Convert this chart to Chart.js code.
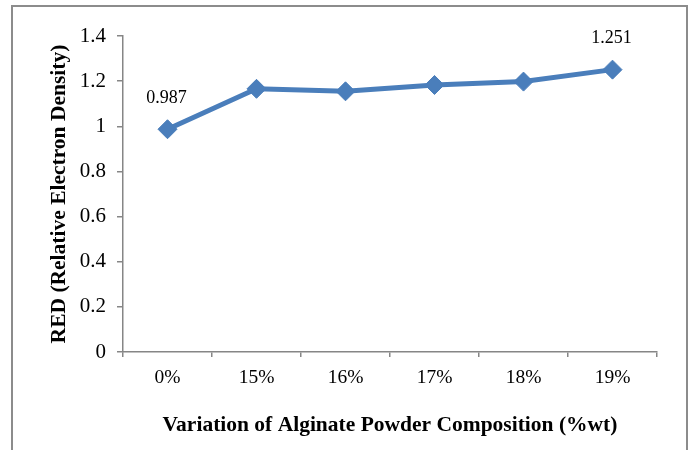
<!DOCTYPE html>
<html>
<head>
<meta charset="utf-8">
<script src="https://cdn.jsdelivr.net/npm/chart.js@4"></script>
<style>
  html, body { margin: 0; padding: 0; background: #ffffff; }
  #wrap { width: 692px; height: 450px; }
</style>
</head>
<body>
<div id="wrap"><canvas id="chart" width="692" height="450"></canvas></div>
<script>
// Alginate powder composition vs. relative electron density
const categories = ['0%', '15%', '16%', '17%', '18%', '19%'];
const redValues = [0.987, 1.166, 1.155, 1.183, 1.198, 1.251];
const yTicks = [0, 0.2, 0.4, 0.6, 0.8, 1, 1.2, 1.4];
const labelledIndices = [0, 5];

const SERIF = '"Liberation Serif", "Times New Roman", serif';
const LINE_BLUE = '#4a7ebb';
const AXIS_GREY = '#868686';

// Outer frame around the whole chart
const framePlugin = {
  id: 'frame',
  beforeDraw(chart) {
    const ctx = chart.ctx;
    ctx.save();
    ctx.fillStyle = '#ffffff';
    ctx.fillRect(0, 0, chart.width, chart.height);
    ctx.strokeStyle = '#8c8c8c';
    ctx.lineWidth = 2;
    ctx.strokeRect(12, 6, 675, 470);
    ctx.restore();
  }
};

// Value labels above selected points
const valueLabelPlugin = {
  id: 'valueLabels',
  afterDatasetsDraw(chart) {
    const ctx = chart.ctx;
    const meta = chart.getDatasetMeta(0);
    ctx.save();
    ctx.font = '18px ' + SERIF;
    ctx.fillStyle = '#000000';
    ctx.textAlign = 'center';
    ctx.textBaseline = 'middle';
    labelledIndices.forEach(i => {
      const pt = meta.data[i];
      ctx.fillText(String(redValues[i]), pt.x - 1, pt.y - 31);
    });
    ctx.restore();
  }
};

new Chart(document.getElementById('chart'), {
  type: 'line',
  data: {
    labels: categories,
    datasets: [{
      data: redValues,
      borderColor: LINE_BLUE,
      backgroundColor: LINE_BLUE,
      borderWidth: 5,
      pointStyle: 'rectRot',
      pointRadius: 9.5,
      pointHoverRadius: 9.5,
      pointBackgroundColor: LINE_BLUE,
      pointBorderColor: LINE_BLUE,
      pointBorderWidth: 1,
      tension: 0,
      fill: false
    }]
  },
  options: {
    responsive: false,
    animation: false,
    devicePixelRatio: 1,
    layout: { padding: { left: 0, right: 35, top: 36, bottom: 0 } },
    plugins: {
      legend: { display: false },
      tooltip: { enabled: false }
    },
    scales: {
      x: {
        type: 'category',
        offset: true,
        grid: {
          offset: true,
          drawOnChartArea: false,
          drawTicks: true,
          tickLength: 5,
          color: AXIS_GREY,
          lineWidth: 1.5
        },
        border: { display: true, color: AXIS_GREY, width: 1.5 },
        ticks: {
          color: '#000000',
          font: { family: SERIF, size: 19.5 },
          padding: 9,
          maxRotation: 0
        },
        title: {
          display: true,
          text: 'Variation of Alginate Powder Composition (%wt)',
          color: '#000000',
          font: { family: SERIF, size: 21.5, weight: 'bold' },
          padding: { top: 0, bottom: 12 }
        },
        afterFit(scale) { scale.height = 98; }
      },
      y: {
        min: 0,
        max: 1.4,
        afterBuildTicks(scale) {
          scale.ticks = yTicks.map(v => ({ value: v }));
        },
        grid: {
          drawOnChartArea: false,
          drawTicks: true,
          tickLength: 6,
          color: AXIS_GREY,
          lineWidth: 1.5
        },
        border: { display: true, color: AXIS_GREY, width: 1.5 },
        ticks: {
          color: '#000000',
          font: { family: SERIF, size: 21 },
          padding: 11,
          callback: v => String(v)
        },
        title: {
          display: true,
          text: 'RED (Relative Electron Density)',
          color: '#000000',
          font: { family: SERIF, size: 21.5, weight: 'bold' },
          padding: { top: 47, bottom: 0 }
        },
        afterFit(scale) { scale.width = 123; }
      }
    }
  },
  plugins: [framePlugin, valueLabelPlugin]
});
</script>
</body>
</html>
